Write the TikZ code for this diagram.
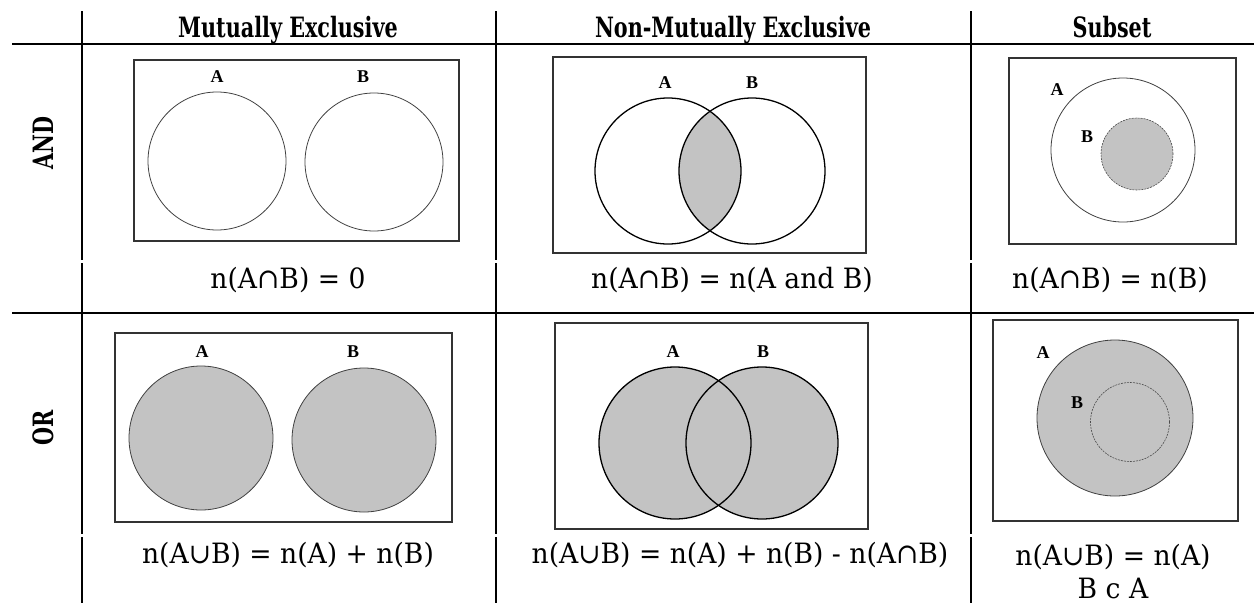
\documentclass[tikz,border=0pt]{standalone}
\usepackage{fontspec}
\setmainfont{DejaVu Serif}
\newfontfamily\hdrfont[FakeStretch=0.74]{DejaVu Serif}
\newfontfamily\lblfont{Liberation Serif}
\newfontfamily\frmfont[FakeStretch=0.95]{DejaVu Serif}
\definecolor{vgray}{RGB}{195,195,195}
\begin{document}
\begin{tikzpicture}[x=1pt,y=-1pt,
  gridline/.style={line width=2.6pt,black},
  frame/.style={draw=black!80,line width=1.8pt},
  setc/.style={draw=black!75,line width=0.8pt,circle,inner sep=0pt},
  setd/.style={draw=black,line width=1.3pt,circle,inner sep=0pt},
  setdash/.style={draw=black!70,line width=0.6pt,dash pattern=on 2pt off 1pt,circle,inner sep=0pt},
  lbl/.style={font=\lblfont\bfseries\fontsize{18}{18}\selectfont,inner sep=0pt},
  hdr/.style={font=\hdrfont\bfseries\fontsize{28}{28}\selectfont,inner sep=0pt},
  frm/.style={font=\frmfont\fontsize{28}{30}\selectfont,inner sep=0pt,align=center}]
\useasboundingbox (0,0) rectangle (1254,603);
% grid
\draw[gridline] (12,44) -- (1254,44);
\draw[gridline] (12,313) -- (1254,313);
\foreach \gx in {82,496,971}{
  \draw[gridline] (\gx,11) -- (\gx,260);
  \draw[gridline] (\gx,263) -- (\gx,534);
  \draw[gridline] (\gx,537) -- (\gx,603);
}
% headers
\node[hdr,anchor=base] (h1) at (288,37) {Mutually Exclusive};
\node[hdr,anchor=base] (h2) at (733,37) {Non-Mutually Exclusive};
\node[hdr,anchor=base] (h3) at (1112,37) {Subset};
\node[hdr,rotate=90] (rand) at (43,143) {AND};
\node[hdr,rotate=90] (ror) at (43,428) {OR};
% ---- Row AND ----
% mutually exclusive
\draw[frame] (134,60) rectangle (459,241);
\node[setc,minimum size=138pt] (a1) at (217,161) {};
\node[setc,minimum size=138pt] (b1) at (374,162) {};
\node[lbl] (la1) at (217,77) {A};
\node[lbl] (lb1) at (363,77) {B};
\node[frm] (f1) at (288,280) {n(A∩B) = 0};
% non-mutually exclusive
\draw[frame] (553,57) rectangle (866,253);
\begin{scope}
  \clip (668,171) circle (73pt);
  \fill[vgray] (752,171) circle (73pt);
\end{scope}
\node[setd,minimum size=146pt] (a2) at (668,171) {};
\node[setd,minimum size=146pt] (b2) at (752,171) {};
\node[lbl] (la2) at (665,83) {A};
\node[lbl] (lb2) at (752,83) {B};
\node[frm] (f2) at (732,280) {n(A∩B) = n(A and B)};
% subset
\draw[frame] (1009,58) rectangle (1236,244);
\node[setc,minimum size=144pt] (a3) at (1123,150) {};
\node[setdash,fill=vgray,minimum size=72pt] (b3) at (1137,154) {};
\node[lbl] (la3) at (1057,90) {A};
\node[lbl] (lb3) at (1087,137) {B};
\node[frm] (f3) at (1110,280) {n(A∩B) = n(B)};
% ---- Row OR ----
\draw[frame] (115,333) rectangle (452,522);
\node[setc,fill=vgray,minimum size=144pt] (a4) at (201,438) {};
\node[setc,fill=vgray,minimum size=144pt] (b4) at (364,440) {};
\node[lbl] (la4) at (202,352) {A};
\node[lbl] (lb4) at (353,352) {B};
\node[frm] (f4) at (288,555) {n(A∪B) = n(A) + n(B)};
% non-mutually exclusive
\draw[frame] (555,323) rectangle (868,529);
\fill[vgray] (675,443) circle (76pt);
\fill[vgray] (762,443) circle (76pt);
\node[setd,minimum size=152pt] (a5) at (675,443) {};
\node[setd,minimum size=152pt] (b5) at (762,443) {};
\node[lbl] (la5) at (673,352) {A};
\node[lbl] (lb5) at (763,352) {B};
\node[frm] (f5) at (740,555) {n(A∪B) = n(A) + n(B) - n(A∩B)};
% subset
\draw[frame] (993,320) rectangle (1238,521);
\node[setc,fill=vgray,minimum size=156pt] (a6) at (1115,418) {};
\node[setdash,minimum size=79pt] (b6) at (1130,422) {};
\node[lbl] (la6) at (1043,353) {A};
\node[lbl] (lb6) at (1077,403) {B};
\node[frm] (f6) at (1113,557) {n(A∪B) = n(A)};
\node[frm] (f7) at (1113,588) {B c A};
\end{tikzpicture}
\end{document}
